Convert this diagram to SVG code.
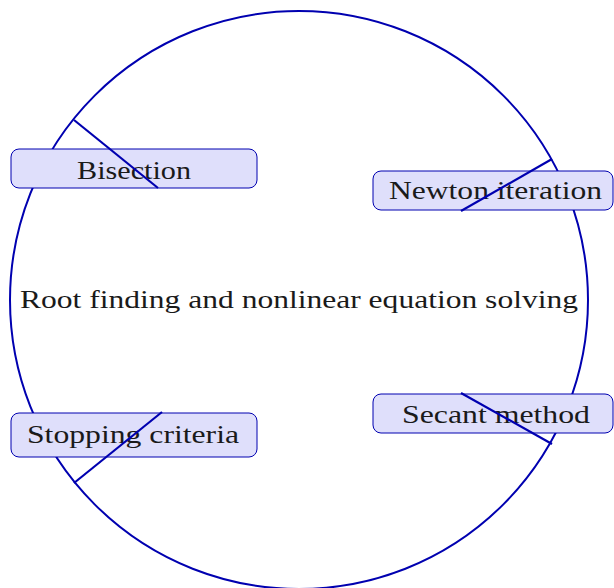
<svg xmlns="http://www.w3.org/2000/svg" width="614" height="588" viewBox="0 0 614 588">
<style>
.node rect{fill:#dfdffb;stroke:#0000b0;stroke-width:1}
.lbl{font-family:"Liberation Serif","DejaVu Serif",serif;font-size:26px;fill:#1a1a1a;text-anchor:middle}
.conn{stroke:#0000b0;stroke-width:2.2;fill:none}
</style>
<rect width="614" height="588" fill="#fff"/>
<g id="hub">
<circle cx="299" cy="300" r="289" fill="none" stroke="#0000b0" stroke-width="2"/>
<text class="lbl" x="299" y="308" textLength="558" lengthAdjust="spacingAndGlyphs">Root finding and nonlinear equation solving</text>
</g>
<g id="n-bisection" class="node">
<rect x="11" y="149" width="246" height="39" rx="8"/>
<text class="lbl" x="134" y="179" textLength="114" lengthAdjust="spacingAndGlyphs">Bisection</text>
</g>
<g id="n-newton" class="node">
<rect x="373" y="171" width="240" height="39" rx="8"/>
<text class="lbl" x="495.5" y="199" textLength="213" lengthAdjust="spacingAndGlyphs">Newton iteration</text>
</g>
<g id="n-secant" class="node">
<rect x="373" y="394" width="240" height="39" rx="8"/>
<text class="lbl" x="496" y="423" textLength="188" lengthAdjust="spacingAndGlyphs">Secant method</text>
</g>
<g id="n-stopping" class="node">
<rect x="11" y="413" width="246" height="44" rx="8"/>
<text class="lbl" x="133" y="443" textLength="212" lengthAdjust="spacingAndGlyphs">Stopping criteria</text>
</g>
<g id="connectors">
<line class="conn" x1="74" y1="120" x2="158" y2="188"/>
<line class="conn" x1="552" y1="159" x2="461" y2="211"/>
<line class="conn" x1="461" y1="393" x2="552" y2="444"/>
<line class="conn" x1="162" y1="412" x2="74" y2="483"/>
</g>
</svg>
